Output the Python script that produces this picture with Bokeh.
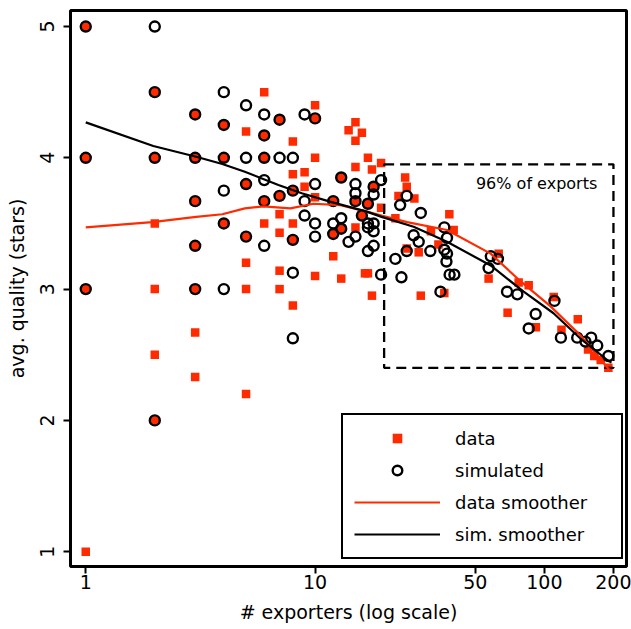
from bokeh.plotting import figure
from bokeh.models import Range1d, FixedTicker, NumeralTickFormatter, Legend, LegendItem, Label
from bokeh.embed import file_html
from bokeh.resources import INLINE

FONT = "DejaVu Sans"
RED = "#ff2a00"

# ---- data: observed (squares) ----
data_x = [1, 1, 1, 1,
          2, 2, 2, 2, 2, 2,
          3, 3, 3, 3, 3, 3, 3,
          4, 4, 4,
          5, 5, 5, 5, 5, 5,
          6, 6, 6, 6, 6,
          7, 7, 7, 7, 7, 7,
          8, 8, 8, 8, 8, 8,
          9, 9,
          10, 10, 10, 10, 10,
          12, 12, 12,
          13, 13, 13,
          14,
          15, 15, 15, 15, 15,
          16, 16,
          17, 17, 17,
          18,
          19.4, 17.7, 24.7, 25.1, 23.1, 27.1, 19.4, 22.4, 38.5, 40.2, 32.0, 34.5,
          25.1, 28.3, 16.5, 17.7, 28.9, 36.6, 63.2, 57.1, 77.2, 85.4, 69.1, 91.8,
          109.8, 139.8, 118.7, 155, 165, 176, 190]
data_y = [5, 4, 3, 1,
          4.5, 4, 3.5, 3, 2.5, 2,
          4.33, 4, 3.67, 3.33, 3, 2.67, 2.33,
          4.25, 4, 3.5,
          4.2, 3.8, 3.4, 3.2, 3.0, 2.2,
          4.5, 4.17, 4.0, 3.67, 3.5,
          4.29, 3.71, 3.57, 3.43, 3.14, 3.0,
          4.125, 3.875, 3.75, 3.5, 3.375, 2.875,
          3.89, 3.78,
          4.4, 4.3, 4.0, 3.7, 3.1,
          3.67, 3.42, 3.25,
          3.85, 3.46, 3.08,
          4.21,
          4.27, 4.13, 3.93, 3.67, 3.47,
          4.19, 3.56,
          4.0, 3.65, 3.12,
          3.78,
          3.96, 3.91, 3.85, 3.78, 3.71, 3.69, 3.62, 3.54, 3.57, 3.45, 3.44, 3.34,
          3.31, 3.28, 3.12, 2.95, 2.95, 2.97, 3.27, 3.08, 3.05, 3.03, 2.82, 2.71,
          2.94, 2.77, 2.69, 2.54, 2.49, 2.46, 2.40]

# ---- simulated (hollow circles) ----
sim_x = [1, 1, 1,
         2, 2, 2, 2,
         3, 3, 3, 3, 3,
         4, 4, 4, 4, 4, 4,
         5, 5, 5, 5,
         6, 6, 6, 6, 6, 6,
         7, 7, 7,
         8, 8, 8, 8, 8,
         9, 9, 9,
         10, 10, 10, 10,
         12, 12, 12,
         13, 13, 13,
         14,
         15, 15, 15, 15,
         16,
         17, 17, 17, 17,
         18, 18, 18, 18, 18,
         19.4, 25.1, 23.5, 28.9, 36.6, 37.6, 26.9, 28.3, 31.8, 25.1, 36.6, 37.6,
         37.4, 22.4, 19.4, 23.8, 38.6, 40.5, 35.2, 58.4, 62.7, 57.1, 68.7, 76.2,
         91.6, 85.4, 110.6, 118, 139, 151, 160, 170, 190]
sim_y = [5, 4, 3,
         5, 4.5, 4, 2,
         4.33, 4, 3.67, 3.33, 3,
         4.5, 4.25, 4, 3.75, 3.5, 3.0,
         4.4, 4.0, 3.8, 3.4,
         4.33, 4.17, 4.0, 3.83, 3.67, 3.33,
         4.29, 4.0, 3.71,
         4.0, 3.75, 3.375, 3.125, 2.625,
         4.33, 3.67, 3.56,
         4.3, 3.8, 3.5, 3.4,
         3.67, 3.5, 3.42,
         3.85, 3.54, 3.46,
         3.36,
         3.8, 3.73, 3.67, 3.4,
         3.56,
         3.65, 3.5, 3.47, 3.29,
         3.78, 3.72, 3.5, 3.44, 3.33,
         3.83, 3.71, 3.64, 3.58, 3.47, 3.39, 3.41, 3.36, 3.29, 3.29, 3.30, 3.27,
         3.21, 3.23, 3.11, 3.09, 3.11, 3.11, 2.98, 3.25, 3.23, 3.16, 2.98, 2.96,
         2.81, 2.70, 2.91, 2.63, 2.63, 2.60, 2.63, 2.57, 2.49]

# ---- smoothers ----
data_smooth_x = [1, 1.95, 3.03, 3.94, 4.94, 5.95, 7.8, 9.83, 12.9, 16.8, 19.5, 25.2,
                 37.6, 58.3, 78.6, 106.1, 143.1, 193]
data_smooth_y = [3.47, 3.51, 3.55, 3.57, 3.615, 3.63, 3.615, 3.65, 3.64, 3.59, 3.56, 3.51,
                 3.45, 3.27, 3.06, 2.87, 2.65, 2.38]
sim_smooth_x = [1, 1.97, 3.03, 3.94, 4.94, 6.92, 8.75, 11.6, 16.8, 19.5, 26.9, 37.6,
                58.3, 81.2, 109.6, 143.1, 188, 196]
sim_smooth_y = [4.27, 4.09, 4.008, 3.953, 3.894, 3.793, 3.73, 3.666, 3.59, 3.55, 3.475, 3.36,
                3.18, 2.98, 2.816, 2.625, 2.46, 2.44]

# ---- annotation box (96% of exports) ----
box_x = [20, 200]
box_y = [2.40, 3.95]
box_text = "96% of exports"

x_ticks = [1, 10, 50, 100, 200]
y_ticks = [1, 2, 3, 4, 5]

p = figure(width=631, height=629, x_axis_type="log",
           x_range=Range1d(0.858, 228), y_range=Range1d(0.887, 5.122),
           output_backend="svg", toolbar_location=None,
           min_border_left=70, min_border_right=5, min_border_top=10, min_border_bottom=63)
p.xgrid.grid_line_color = None
p.ygrid.grid_line_color = None
p.outline_line_color = "black"
p.outline_line_width = 3
p.outline_line_alpha = 1
p.background_fill_color = "white"
p.border_fill_color = "white"

for ax in (p.xaxis[0], p.yaxis[0]):
    ax.axis_line_color = None
    ax.major_tick_out = 7
    ax.major_tick_in = 0
    ax.major_tick_line_width = 2
    ax.major_tick_line_color = "black"
    ax.minor_tick_line_color = None
    ax.major_label_text_font = FONT
    ax.major_label_text_font_size = "19px"
    ax.major_label_text_color = "black"
    ax.axis_label_text_font = FONT
    ax.axis_label_text_font_size = "19px"
    ax.axis_label_text_font_style = "normal"
    ax.axis_label_text_color = "black"

p.xaxis.ticker = FixedTicker(ticks=x_ticks)
p.xaxis.formatter = NumeralTickFormatter(format="0")
p.xaxis.axis_label = "# exporters (log scale)"
p.xaxis.major_label_standoff = 1
p.xaxis.axis_label_standoff = 9

p.yaxis.ticker = FixedTicker(ticks=y_ticks)
p.yaxis.major_label_orientation = "vertical"
p.yaxis.axis_label = "avg. quality (stars)"
p.yaxis.major_label_standoff = 9
p.yaxis.axis_label_standoff = 10

r_sq = p.scatter(data_x, data_y, marker="square", size=8.5, fill_color=RED, line_color=None)
r_ci = p.scatter(sim_x, sim_y, marker="circle", size=10, fill_color=None,
                 line_color="black", line_width=2.4)
p.quad(left=[box_x[0]], right=[box_x[1]], bottom=[box_y[0]], top=[box_y[1]],
       fill_color=None, line_color="black", line_width=2.3, line_dash="10 6")
r_dl = p.line(data_smooth_x, data_smooth_y, line_color=RED, line_width=2.2)
r_sl = p.line(sim_smooth_x, sim_smooth_y, line_color="black", line_width=2.2)

p.add_layout(Label(x=170, y=3.806, text=box_text, text_align="right", text_baseline="middle",
                   text_font=FONT, text_font_size="16px", text_color="black"))

legend = Legend(items=[LegendItem(label="data", renderers=[r_sq]),
                       LegendItem(label="simulated", renderers=[r_ci]),
                       LegendItem(label="data smoother", renderers=[r_dl]),
                       LegendItem(label="sim. smoother", renderers=[r_sl])],
                location=(271, 7))
legend.glyph_width = 86
legend.glyph_height = 24
legend.label_width = 155
legend.label_height = 24
legend.spacing = 8
legend.padding = 11
legend.margin = 0
legend.label_standoff = 15
legend.border_line_color = "black"
legend.border_line_alpha = 1
legend.border_line_width = 2
legend.background_fill_color = "white"
legend.background_fill_alpha = 1
legend.label_text_font = FONT
legend.label_text_font_size = "18px"
legend.label_text_color = "black"
p.add_layout(legend)

open("out.html", "w").write(file_html(p, INLINE))
